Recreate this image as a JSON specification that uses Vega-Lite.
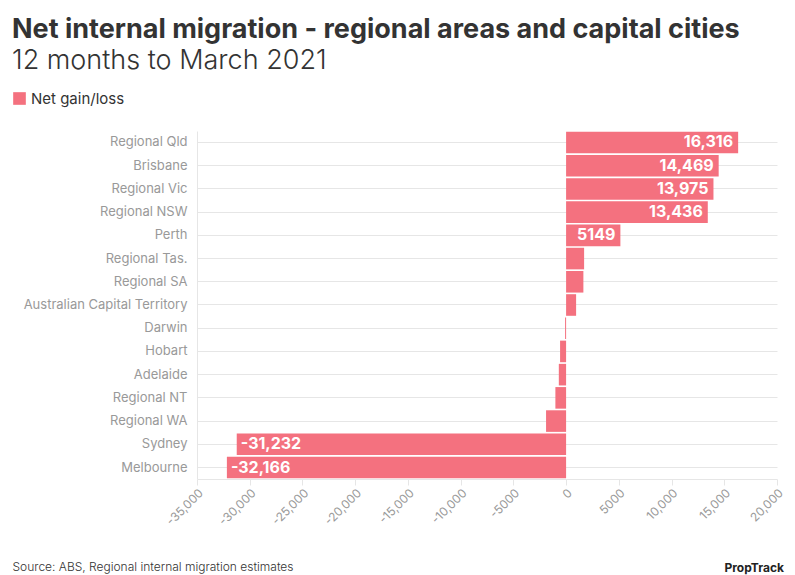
{
  "$schema": "https://vega.github.io/schema/vega-lite/v6.json",
  "width": 580,
  "height": 348,
  "padding": {"left": 12, "top": 16, "right": 5, "bottom": 2},
  "background": "white",
  "config": {
    "font": "Inter",
    "view": {"stroke": null}
  },
  "title": {
    "text": "Net internal migration - regional areas and capital cities",
    "subtitle": "12 months to March 2021",
    "anchor": "start",
    "frame": "bounds",
    "font": "Inter",
    "fontSize": 27,
    "fontWeight": "bold",
    "color": "#333333",
    "subtitleFont": "Inter",
    "subtitleFontSize": 27,
    "subtitleFontWeight": 300,
    "subtitleColor": "#333333",
    "subtitlePadding": 4,
    "offset": 16
  },
  "data": {
    "values": [
      {"area": "Regional Qld", "value": 16316},
      {"area": "Brisbane", "value": 14469},
      {"area": "Regional Vic", "value": 13975},
      {"area": "Regional NSW", "value": 13436},
      {"area": "Perth", "value": 5149},
      {"area": "Regional Tas.", "value": 1708},
      {"area": "Regional SA", "value": 1640},
      {"area": "Australian Capital Territory", "value": 950},
      {"area": "Darwin", "value": -95},
      {"area": "Hobart", "value": -570},
      {"area": "Adelaide", "value": -690},
      {"area": "Regional NT", "value": -1015},
      {"area": "Regional WA", "value": -1900},
      {"area": "Sydney", "value": -31232},
      {"area": "Melbourne", "value": -32166}
    ]
  },
  "transform": [
    {"calculate": "replace(abs(datum.value) >= 10000 ? format(datum.value, ',') : format(datum.value, 'd'), '\u2212', '-')", "as": "label"},
    {"calculate": "'Net gain/loss'", "as": "series"}
  ],
  "encoding": {
    "y": {
      "field": "area",
      "type": "nominal",
      "sort": null,
      "scale": {"paddingInner": 0.07, "paddingOuter": 0.03},
      "axis": {
        "title": "PropTrack",
        "titleAngle": 0,
        "titleX": 527,
        "titleY": 440,
        "titleAlign": "left",
        "titleBaseline": "alphabetic",
        "titleFont": "Inter",
        "titleFontSize": 12,
        "titleFontWeight": "bold",
        "titleColor": "#222222",
        "labelColor": "#999999",
        "labelFontSize": 13,
        "labelFont": "Inter",
        "labelPadding": 10,
        "ticks": false,
        "domain": true,
        "domainColor": "#e6e6e6",
        "grid": true,
        "gridColor": "#e6e6e6",
        "bandPosition": 0.5
      }
    }
  },
  "layer": [
    {
      "mark": {"type": "bar", "color": "#f4717f"},
      "encoding": {
        "x": {
          "field": "value",
          "type": "quantitative",
          "scale": {"domain": [-35000, 20000], "nice": false, "zero": false},
          "axis": {
            "values": [-35000, -30000, -25000, -20000, -15000, -10000, -5000, 0, 5000, 10000, 15000, 20000],
            "labelExpr": "replace(abs(datum.value) >= 10000 ? format(datum.value, ',') : format(datum.value, 'd'), '\u2212', '-')",
            "labelAngle": -45,
            "labelColor": "#999999",
            "labelFontSize": 12,
            "labelFont": "Inter",
            "grid": false,
            "domainColor": "#e6e6e6",
            "tickColor": "#e6e6e6",
            "tickSize": 6,
            "title": "Source: ABS, Regional internal migration estimates",
            "titleX": -185,
            "titleY": 91,
            "titleAlign": "left",
            "titleBaseline": "alphabetic",
            "titleFont": "Inter",
            "titleFontSize": 12,
            "titleFontWeight": 300,
            "titleColor": "#333333"
          }
        },
        "color": {
          "field": "series",
          "type": "nominal",
          "scale": {"range": ["#f4717f"]},
          "legend": {
            "title": null,
            "orient": "none",
            "legendX": -185,
            "legendY": -40,
            "symbolType": "square",
            "symbolSize": 160,
            "symbolStrokeWidth": 0,
            "labelFont": "Inter",
            "labelFontSize": 15,
            "labelColor": "#333333",
            "labelOffset": 4
          }
        }
      }
    },
    {
      "transform": [{"filter": "datum.value >= 5000"}],
      "mark": {"type": "text", "align": "right", "dx": -5, "color": "white", "fontWeight": "bold", "fontSize": 16, "font": "Inter"},
      "encoding": {
        "x": {"field": "value", "type": "quantitative"},
        "text": {"field": "label"}
      }
    },
    {
      "transform": [{"filter": "datum.value <= -5000"}],
      "mark": {"type": "text", "align": "left", "dx": 4, "color": "white", "fontWeight": "bold", "fontSize": 16, "font": "Inter"},
      "encoding": {
        "x": {"field": "value", "type": "quantitative"},
        "text": {"field": "label"}
      }
    }
  ]
}
